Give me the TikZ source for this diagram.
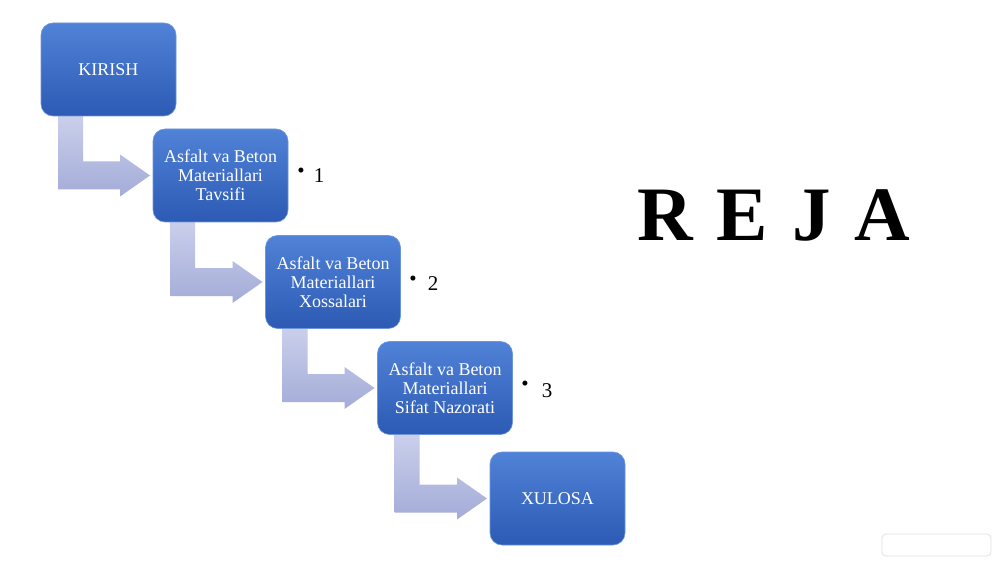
\documentclass[tikz,border=0pt]{standalone}
\usepackage{fontspec}
\setmainfont{Liberation Serif}
\usetikzlibrary{calc,backgrounds}
\definecolor{boxtop}{RGB}{80,130,215}
\definecolor{boxbot}{RGB}{44,90,180}
\definecolor{boxedge}{RGB}{110,150,220}
\definecolor{arrtop}{RGB}{204,209,236}
\definecolor{arrbot}{RGB}{164,172,216}
\newcommand\bentarrow[2]{%
\begin{scope}[on background layer]
\path[bentarr] let \p1=(#1.south west), \p2=(#2.west) in
 (\x1+12.75pt,\y1+4pt) -- (\x1+12.75pt,\y2-10.5pt) -- (\x2-24.75pt,\y2-10.5pt)
 -- (\x2-24.75pt,\y2-15.75pt) -- (\x2-2.25pt,\y2) -- (\x2-24.75pt,\y2+15.75pt)
 -- (\x2-24.75pt,\y2+10.5pt) -- (\x1+31.5pt,\y2+10.5pt) -- (\x1+31.5pt,\y1+4pt) -- cycle;
\end{scope}}
\begin{document}
\begin{tikzpicture}[x=0.75pt,y=-0.75pt,
  stepbox/.style={rounded corners=9pt, top color=boxtop, bottom color=boxbot,
    draw=boxedge, line width=0.5pt, minimum width=101.25pt, minimum height=69.75pt,
    inner sep=0pt, outer sep=0pt, text=white, align=center,
    font=\fontsize{13.5}{14.25}\selectfont},
  bentarr/.style={top color=arrtop, bottom color=arrbot},
  numtxt/.style={font=\fontsize{15.75}{16}\selectfont, inner sep=0pt, anchor=base}]
\useasboundingbox (0,0) rectangle (1000,563);
\begin{scope}[on background layer]
\fill[white] (0,0) rectangle (1000,563);
\end{scope}
\node[stepbox] (k) at (108.5,69.5) {KIRISH};
\node[stepbox] (s1) at (220.5,175.5) {Asfalt va Beton\\Materiallari\\Tavsifi};
\node[stepbox] (s2) at (333,282) {Asfalt va Beton\\Materiallari\\Xossalari};
\node[stepbox] (s3) at (445,388) {Asfalt va Beton\\Materiallari\\Sifat Nazorati};
\node[stepbox] (x) at (557.5,498.5) {XULOSA};
\bentarrow{k}{s1}
\bentarrow{s1}{s2}
\bentarrow{s2}{s3}
\bentarrow{s3}{x}
\node[numtxt] (b1) at (301,177.5) {•};
\node[numtxt] (n1) at (319,183) {1};
\node[numtxt] (b2) at (413,285) {•};
\node[numtxt] (n2) at (433,290) {2};
\node[numtxt] (b3) at (525,390) {•};
\node[numtxt] (n3) at (547,397) {3};
\node[font=\fontsize{57.75}{60}\selectfont\bfseries, inner sep=0pt, anchor=base west]
  (reja) at (637,241) {R\hspace{18pt}E\hspace{18pt}J\hspace{18pt}A};
\draw[draw={rgb,255:red,226;green,226;blue,226}, rounded corners=3pt, line width=0.6pt]
  (882,534) rectangle (991,556);
\end{tikzpicture}
\end{document}
